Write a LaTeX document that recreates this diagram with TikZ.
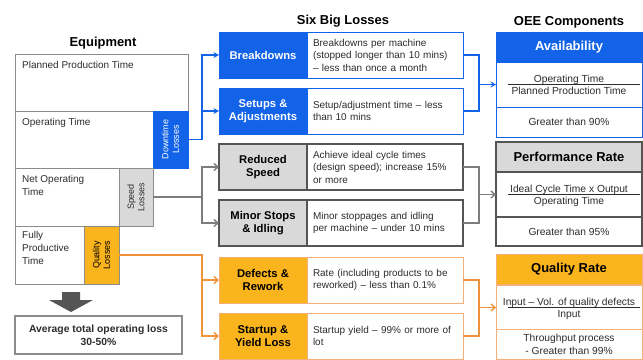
\documentclass[tikz,border=0pt]{standalone}
\usepackage{fontspec}
\setmainfont{Liberation Sans}
\usetikzlibrary{arrows.meta}
\definecolor{oblue}{RGB}{18,99,232}
\definecolor{ogray}{RGB}{217,217,217}
\definecolor{odgray}{RGB}{85,85,85}
\definecolor{gconn}{RGB}{125,125,125}
\definecolor{eqline}{RGB}{140,140,140}
\definecolor{oorange}{RGB}{250,180,30}
\definecolor{olorange}{RGB}{245,175,120}
\definecolor{oconn}{RGB}{240,145,60}
\definecolor{otext}{RGB}{45,45,45}
\tikzset{
  base/.style={inner sep=0pt, outer sep=0pt, anchor=north west},
  eqbox/.style={base, draw=eqline, line width=0.8pt, fill=white},
  eqtext/.style={anchor=north west, align=left, inner sep=0pt, text=otext, font=\fontsize{10}{13}\selectfont},
  vtext/.style={rotate=90, align=center, inner sep=0pt, font=\fontsize{9}{10.5}\selectfont},
  title/.style={inner sep=0pt, text=black, font=\bfseries\fontsize{13}{15}\selectfont},
  lossname/.style={base, minimum width=88bp, minimum height=46bp, align=center, line width=1pt, font=\bfseries\fontsize{11.3}{13}\selectfont},
  desc/.style={base, minimum height=46bp, text width=144bp, inner xsep=6bp, align=left, fill=white, line width=1pt, text=otext, font=\fontsize{10}{12.5}\selectfont},
  oeeh/.style={base, minimum width=146bp, minimum height=30bp, align=center, line width=1pt, font=\bfseries\fontsize{13}{15}\selectfont},
  oeeb/.style={base, minimum width=146bp, minimum height=45bp, align=center, fill=white, line width=1pt, text=otext, font=\fontsize{10.3}{13}\selectfont},
  fractext/.style={inner sep=0pt, text=otext, font=\fontsize{10.3}{12}\selectfont},
  fracbar/.style={draw=otext, line width=0.6pt},
  conn/.style={line width=1.4pt},
  tip/.style={-{Stealth[length=5.5bp,width=6bp]}},
  bartip/.style={-{Straight Barb[length=4bp,width=7bp]}}
}
\begin{document}
\begin{tikzpicture}[x=1bp,y=-1bp]
\useasboundingbox (0,0) rectangle (643,359);
\fill[white] (0,0) rectangle (643,359);

% titles
\node[title] (teq) at (103,43) {Equipment};
\node[title] (tsbl) at (343,21) {Six Big Losses};
\node[title] (toee) at (569,22) {OEE Components};

% equipment staircase
\node[eqbox, minimum width=173bp, minimum height=57bp] (ppt) at (15,54) {};
\node[eqbox, minimum width=138bp, minimum height=57bp] (opt) at (15,111) {};
\node[base, fill=oblue, draw=oblue, line width=0.8pt, minimum width=35bp, minimum height=57bp] (dtl) at (153,111) {};
\node[eqbox, minimum width=104bp, minimum height=58bp] (nopt) at (15,168) {};
\node[base, fill=ogray, draw=eqline, line width=0.8pt, minimum width=34bp, minimum height=58bp] (spl) at (119,168) {};
\node[eqbox, minimum width=69bp, minimum height=58bp] (fpt) at (15,226) {};
\node[base, fill=oorange, draw=eqline, line width=0.8pt, minimum width=35bp, minimum height=58bp] (qll) at (84,226) {};

\node[eqtext] (pptl) at (22,61) {Planned Production Time};
\node[eqtext] (optl) at (22,118) {Operating Time};
\node[eqtext] (noptl) at (22,175) {Net Operating\\Time};
\node[eqtext] (fptl) at (22,231) {Fully\\Productive\\Time};

\node[vtext, text=white] (dtlt) at (dtl.center) {Downtime\\Losses};
\node[vtext, text=otext] (splt) at (spl.center) {Speed\\Losses};
\node[vtext, text=black] (qllt) at (qll.center) {Quality\\Losses};

% block arrow and average box
\fill[odgray] (62,292) -- (80,292) -- (80,300) -- (93,300) -- (71,312) -- (49,300) -- (62,300) -- cycle;
\node[base, draw=eqline, line width=1.2pt, fill=white, minimum width=167bp, minimum height=38bp, align=center, text=otext, font=\bfseries\fontsize{10.4}{13}\selectfont] (avgl) at (15,316) {Average total operating loss\\30-50\%};

% six big losses
\node[lossname, fill=oblue, draw=oblue, text=white] (bd) at (219,32) {Breakdowns};
\node[desc, draw=oblue] (bdd) at (307,32) {Breakdowns per machine\\(stopped longer than 10 mins)\\– less than once a month};
\node[lossname, fill=oblue, draw=oblue, text=white] (su) at (219,88) {Setups \&\\Adjustments};
\node[desc, draw=oblue] (sud) at (307,88) {Setup/adjustment time – less\\than 10 mins};
\node[lossname, fill=ogray, draw=odgray, text=black, line width=1.4pt] (rs) at (219,144) {Reduced\\Speed};
\node[desc, draw=odgray, line width=1.4pt] (rsd) at (307,144) {Achieve ideal cycle times\\(design speed); increase 15\%\\or more};
\node[lossname, fill=ogray, draw=odgray, text=black, line width=1.4pt] (ms) at (219,200) {Minor Stops\\\& Idling};
\node[desc, draw=odgray, line width=1.4pt] (msd) at (307,200) {Minor stoppages and idling\\per machine – under 10 mins};
\node[lossname, fill=oorange, draw=olorange, text=black] (dr) at (219,257) {Defects \&\\Rework};
\node[desc, draw=olorange] (drd) at (307,257) {Rate (including products to be\\reworked) – less than 0.1\%};
\node[lossname, fill=oorange, draw=olorange, text=black] (sy) at (219,313) {Startup \&\\Yield Loss};
\node[desc, draw=olorange] (syd) at (307,313) {Startup yield – 99\% or more of\\lot};

% OEE components
\node[oeeh, fill=oblue, draw=oblue, text=white] (avh) at (496,32) {Availability};
\node[oeeb, draw=oblue] (avf) at (496,62) {};
\node[oeeb, draw=oblue, minimum height=30bp] (avg) at (496,107) {Greater than 90\%};
\node[oeeh, fill=ogray, draw=odgray, text=black, line width=1.4pt] (prh) at (496,142) {Performance Rate};
\node[oeeb, draw=odgray, line width=1.4pt] (prf) at (496,172) {};
\node[oeeb, draw=odgray, line width=1.4pt, minimum height=29bp] (prg) at (496,217) {Greater than 95\%};
\node[oeeh, fill=oorange, draw=olorange, text=black] (qrh) at (496,254) {Quality Rate};
\node[oeeb, draw=olorange] (qrf) at (496,285) {};
\node[oeeb, draw=olorange, minimum height=30bp] (qrg) at (496,329) {Throughput process\\- Greater than 99\%};

% fractions
\node[fractext, anchor=base] (avn) at ([yshift=2.5bp]avf.center) {Operating Time};
\node[fractext, anchor=base] (avd) at ([yshift=-9.5bp]avf.center) {Planned Production Time};
\draw[fracbar] ([xshift=-61bp]avf.center) -- ([xshift=71bp]avf.center);
\node[fractext, anchor=base] (prn) at ([yshift=2.5bp]prf.center) {Ideal Cycle Time x Output};
\node[fractext, anchor=base] (prd) at ([yshift=-9.5bp]prf.center) {Operating Time};
\draw[fracbar] ([xshift=-61bp]prf.center) -- ([xshift=71bp]prf.center);
\node[fractext, anchor=base] (qrn) at ([yshift=2.5bp]qrf.center) {Input – Vol. of quality defects};
\node[fractext, anchor=base] (qrd) at ([yshift=-9.5bp]qrf.center) {Input};
\draw[fracbar] ([xshift=-61bp]qrf.center) -- ([xshift=71bp]qrf.center);

% left connectors
\coordinate (bj) at ([xshift=14bp]dtl.east);
\draw[conn, oblue, tip] (dtl.east) -- (bj) |- (bd.west);
\draw[conn, oblue, tip] (bj) |- (su.west);
\coordinate (gj) at ([xshift=49bp]spl.east);
\draw[conn, gconn, bartip] (spl.east) -- (gj) |- (rs.west);
\draw[conn, gconn, bartip] (gj) |- (ms.west);
\coordinate (oj) at ([xshift=83bp]qll.east);
\draw[conn, oconn, bartip] (qll.east) -- (oj) |- (dr.west);
\draw[conn, oconn, bartip] (oj) |- (sy.west);

% right connectors
\coordinate (rbj) at ([xshift=16bp]bdd.east);
\coordinate (rba) at (rbj |- avf.west);
\draw[conn, oblue] (bdd.east) -- (rbj) |- (sud.east);
\draw[conn, oblue, tip] (rba) -- (avf.west);
\coordinate (rgj) at ([xshift=16bp]rsd.east);
\coordinate (rga) at (rgj |- prf.west);
\draw[conn, gconn] (rsd.east) -- (rgj) |- (msd.east);
\draw[conn, gconn, bartip] (rga) -- (prf.west);
\coordinate (roj) at ([xshift=16bp]drd.east);
\coordinate (roa) at (roj |- qrf.west);
\draw[conn, oconn] (drd.east) -- (roj) |- (syd.east);
\draw[conn, oconn, bartip] (roa) -- (qrf.west);
\end{tikzpicture}
\end{document}
